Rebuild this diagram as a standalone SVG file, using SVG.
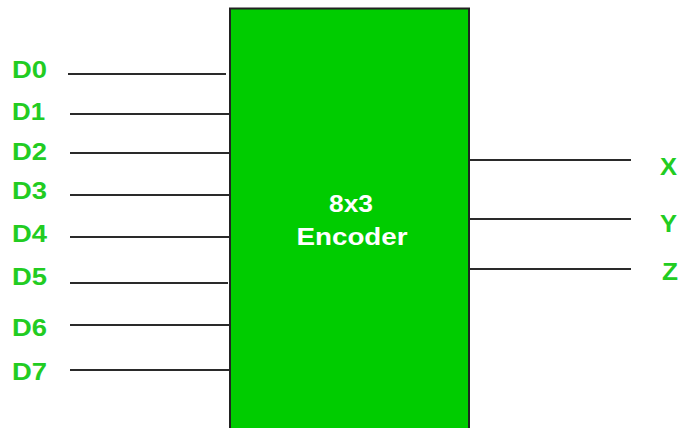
<svg xmlns="http://www.w3.org/2000/svg" width="683" height="428" viewBox="0 0 683 428">
  <style>
    .wire { stroke: #2a2a2a; stroke-width: 2; fill: none; }
    .lbl { font-family: "Liberation Sans", Arial, sans-serif; font-weight: bold; font-size: 23px; fill: #22cc22; }
    .title { font-family: "Liberation Sans", Arial, sans-serif; font-weight: bold; font-size: 24px; fill: #ffffff; text-anchor: middle; }
  </style>
  <rect width="683" height="428" fill="#ffffff"/>

  <g id="connectors">
    <line class="wire" x1="68" y1="74" x2="226" y2="74"/>
    <line class="wire" x1="70" y1="114" x2="231" y2="114"/>
    <line class="wire" x1="70" y1="153" x2="231" y2="153"/>
    <line class="wire" x1="70" y1="195" x2="231" y2="195"/>
    <line class="wire" x1="70" y1="237" x2="231" y2="237"/>
    <line class="wire" x1="70" y1="283" x2="228" y2="283"/>
    <line class="wire" x1="70" y1="325" x2="231" y2="325"/>
    <line class="wire" x1="70" y1="370" x2="231" y2="370"/>
    <line class="wire" x1="469" y1="160" x2="631" y2="160"/>
    <line class="wire" x1="469" y1="219" x2="631" y2="219"/>
    <line class="wire" x1="469" y1="269" x2="631" y2="269"/>
  </g>

  <g id="encoder">
    <rect x="230" y="8.5" width="239" height="430" fill="#00cc00" stroke="#222222" stroke-width="2"/>
    <text class="title" x="351" y="212" textLength="44" lengthAdjust="spacingAndGlyphs">8x3</text>
    <text class="title" x="352" y="245" textLength="111" lengthAdjust="spacingAndGlyphs">Encoder</text>
  </g>

  <g id="inputs">
    <text class="lbl" x="12" y="78" textLength="35" lengthAdjust="spacingAndGlyphs">D0</text>
    <text class="lbl" x="12" y="120" textLength="33" lengthAdjust="spacingAndGlyphs">D1</text>
    <text class="lbl" x="12" y="160" textLength="35" lengthAdjust="spacingAndGlyphs">D2</text>
    <text class="lbl" x="12" y="199" textLength="35" lengthAdjust="spacingAndGlyphs">D3</text>
    <text class="lbl" x="12" y="242" textLength="35" lengthAdjust="spacingAndGlyphs">D4</text>
    <text class="lbl" x="12" y="285" textLength="35" lengthAdjust="spacingAndGlyphs">D5</text>
    <text class="lbl" x="12" y="336" textLength="35" lengthAdjust="spacingAndGlyphs">D6</text>
    <text class="lbl" x="12" y="380" textLength="35" lengthAdjust="spacingAndGlyphs">D7</text>
  </g>

  <g id="outputs">
    <text class="lbl" x="660" y="175" textLength="17" lengthAdjust="spacingAndGlyphs">X</text>
    <text class="lbl" x="660" y="232" textLength="17" lengthAdjust="spacingAndGlyphs">Y</text>
    <text class="lbl" x="662" y="280" textLength="16" lengthAdjust="spacingAndGlyphs">Z</text>
  </g>
</svg>
